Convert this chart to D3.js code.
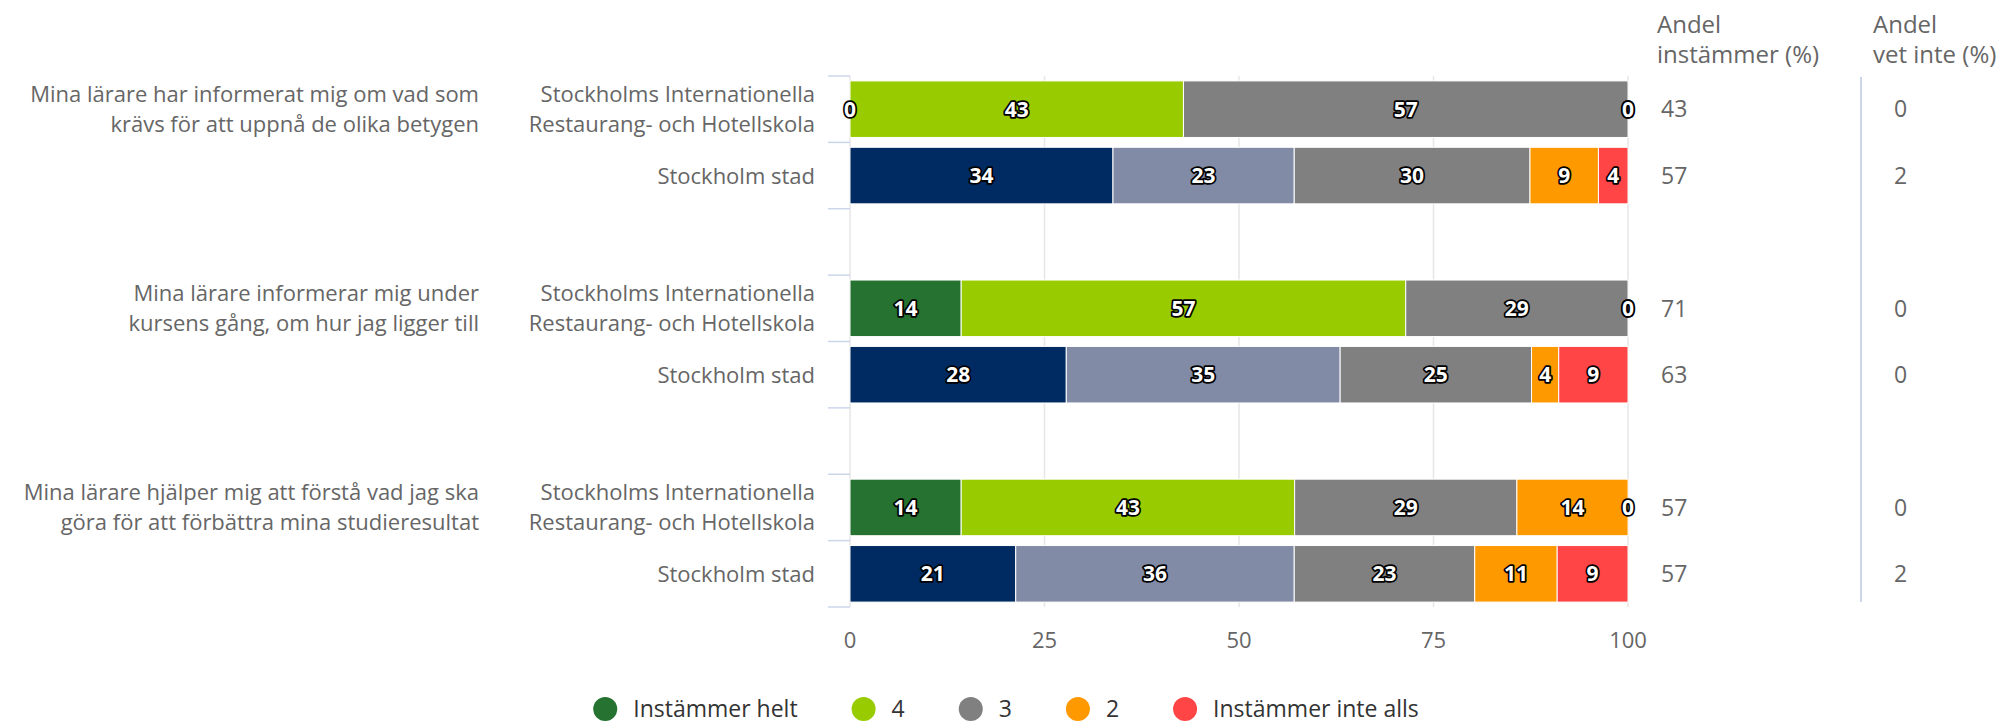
<!DOCTYPE html>
<html>
<head>
<meta charset="utf-8">
<script src="https://cdn.jsdelivr.net/npm/d3@7"></script>
<style>
  body { margin: 0; background: #fff; }
  svg { display: block; font-family: "Open Sans", Lato, sans-serif; }
</style>
</head>
<body>
<svg id="chart" width="2004" height="726"></svg>
<script>
// questions (two lines each) and units
const questions = [
  ["Mina lärare har informerat mig om vad som", "krävs för att uppnå de olika betygen"],
  ["Mina lärare informerar mig under", "kursens gång, om hur jag ligger till"],
  ["Mina lärare hjälper mig att förstå vad jag ska", "göra för att förbättra mina studieresultat"]
];
const units = [
  ["Stockholms Internationella", "Restaurang- och Hotellskola"],
  ["Stockholm stad"]
];
const seriesNames = ["Instämmer helt", "4", "3", "2", "Instämmer inte alls"];
const schoolColors = ["#267230", "#99cc00", "#808080", "#ff9900", "#ff4545"];
const cityColors = ["#002b62", "#828ba6", "#808080", "#ff9900", "#ff4545"];

// percent per answer, one row per question
const schoolValues = [
  [0, 42.86, 57.14, 0, 0],
  [14.29, 57.14, 28.57, 0, 0],
  [14.29, 42.86, 28.57, 14.29, 0]
];
const cityValues = [
  [33.8, 23.3, 30.3, 8.8, 3.8],
  [27.8, 35.2, 24.6, 3.5, 8.9],
  [21.3, 35.8, 23.2, 10.6, 9.1]
];
const andelInstammer = [[43, 57], [71, 63], [57, 57]];
const andelVetInte = [[0, 2], [0, 0], [0, 2]];
const xTicks = [0, 25, 50, 75, 100];

const svg = d3.select("#chart");

// rows: slot index in the band scale (every third slot is left empty)
const rows = [];
questions.forEach((q, qi) => {
  rows.push({ q: qi, unit: 0, slot: qi * 3, values: schoolValues[qi], andel: andelInstammer[qi][0], vet: andelVetInte[qi][0] });
  rows.push({ q: qi, unit: 1, slot: qi * 3 + 1, values: cityValues[qi], andel: andelInstammer[qi][1], vet: andelVetInte[qi][1] });
});

const x = d3.scaleLinear().domain([0, 100]).range([850, 1628]);
const y = d3.scaleBand()
  .domain(d3.range(8))
  .range([76, 607])
  .paddingInner(0.148)
  .paddingOuter(0.074);
const step = y.step();
const cy = (slot) => y(slot) + y.bandwidth() / 2;

// grid lines
svg.append("g")
  .selectAll("line")
  .data(xTicks)
  .join("line")
  .attr("x1", (d) => x(d))
  .attr("x2", (d) => x(d))
  .attr("y1", 76)
  .attr("y2", 607)
  .style("stroke", "#e6e6e6")
  .style("stroke-width", 1.5);

// category ticks (between bands)
const tickYs = d3.range(9).map((i) => 76 + i * step);
svg.append("g")
  .selectAll("line")
  .data(tickYs)
  .join("line")
  .attr("x1", x(0) - 22)
  .attr("x2", x(0))
  .attr("y1", (d) => d)
  .attr("y2", (d) => d)
  .style("stroke", "#ccd6eb")
  .style("stroke-width", 1.5);

// x axis labels
svg.append("g")
  .selectAll("text")
  .data(xTicks)
  .join("text")
  .attr("x", (d) => x(d))
  .attr("y", 648)
  .attr("text-anchor", "middle")
  .style("font-size", "22px")
  .style("fill", "#666")
  .text((d) => d);

// stacked bars
const stack = d3.stack()
  .keys(d3.range(5))
  .value((d, k) => d.values[k]);
const series = stack(rows);

const barG = svg.append("g");
series.forEach((s, k) => {
  barG.append("g")
    .selectAll("rect")
    .data(s)
    .join("rect")
    .attr("x", (d) => x(d[0]))
    .attr("width", (d) => x(d[1]) - x(d[0]))
    .attr("y", (d) => y(d.data.slot))
    .attr("height", y.bandwidth())
    .style("fill", (d) => (d.data.unit === 0 ? schoolColors[k] : cityColors[k]))
    .style("stroke", "#fff")
    .style("stroke-width", 1);
});

// data labels
const fmt = d3.format(".0f");
series.forEach((s) => {
  barG.append("g")
    .selectAll("text")
    .data(s)
    .join("text")
    .attr("x", (d) => x((d[0] + d[1]) / 2))
    .attr("y", (d) => cy(d.data.slot))
    .attr("dy", "0.36em")
    .attr("text-anchor", "middle")
    .style("font-size", "21px")
    .style("font-weight", "bold")
    .style("fill", "#fff")
    .style("stroke", "#000")
    .style("stroke-width", 3.5)
    .style("stroke-linejoin", "round")
    .style("paint-order", "stroke")
    .text((d) => fmt(d[1] - d[0]));
});

// unit labels
const unitG = svg.append("g")
  .selectAll("text")
  .data(rows)
  .join("text")
  .attr("x", 815)
  .attr("y", (d) => cy(d.slot))
  .attr("text-anchor", "end")
  .style("font-size", "22px")
  .style("fill", "#666");
unitG.selectAll("tspan")
  .data((d) => units[d.unit].map((t, i, a) => ({ t, off: (i - (a.length - 1) / 2) * 30 })))
  .join("tspan")
  .attr("x", 815)
  .attr("dy", (d, i) => (i === 0 ? d.off + 8 : 30))
  .text((d) => d.t);

// question labels
const qG = svg.append("g")
  .selectAll("text")
  .data(questions)
  .join("text")
  .attr("x", 479)
  .attr("y", (d, i) => cy(i * 3) - 15 + 8)
  .attr("text-anchor", "end")
  .style("font-size", "22px")
  .style("fill", "#666");
qG.selectAll("tspan")
  .data((d) => d)
  .join("tspan")
  .attr("x", 479)
  .attr("dy", (d, i) => (i === 0 ? 0 : 30))
  .text((d) => d);

// right-hand columns
const headers = [
  { x: 1657, lines: ["Andel", "instämmer (%)"] },
  { x: 1873, lines: ["Andel", "vet inte (%)"] }
];
const hG = svg.append("g")
  .selectAll("text")
  .data(headers)
  .join("text")
  .attr("x", (d) => d.x)
  .attr("y", 33)
  .style("font-size", "24px")
  .style("fill", "#666");
hG.selectAll("tspan")
  .data((d) => d.lines.map((t) => ({ t, x: d.x })))
  .join("tspan")
  .attr("x", (d) => d.x)
  .attr("dy", (d, i) => (i === 0 ? 0 : 30))
  .text((d) => d.t);

svg.append("line")
  .attr("x1", 1861)
  .attr("x2", 1861)
  .attr("y1", y(0) - 4)
  .attr("y2", y(7) + y.bandwidth())
  .style("stroke", "#ccd6eb")
  .style("stroke-width", 2);

[["andel", 1661], ["vet", 1894]].forEach(([key, cx]) => {
  svg.append("g")
    .selectAll("text")
    .data(rows)
    .join("text")
    .attr("x", cx)
    .attr("y", (d) => cy(d.slot))
    .attr("dy", "0.36em")
    .style("font-size", "23px")
    .style("fill", "#666")
    .text((d) => d[key]);
});

// legend
const legendY = 709;
const legend = svg.append("g");
const items = legend.selectAll("g")
  .data(seriesNames)
  .join("g");
items.append("circle")
  .attr("r", 12)
  .attr("cy", legendY)
  .style("fill", (d, i) => schoolColors[i]);
items.append("text")
  .attr("x", 28)
  .attr("y", legendY)
  .attr("dy", "0.36em")
  .style("font-size", "23px")
  .style("fill", "#333")
  .text((d) => d);
let cursor = 0;
const offsets = [];
items.each(function () {
  offsets.push(cursor);
  const w = d3.select(this).select("text").node().getComputedTextLength();
  cursor += 12 + 28 + w + 54;
});
const totalW = cursor - 54;
const start = 1006 - totalW / 2 + 12;
items.attr("transform", (d, i) => `translate(${start + offsets[i]},0)`);
</script>
</body>
</html>
